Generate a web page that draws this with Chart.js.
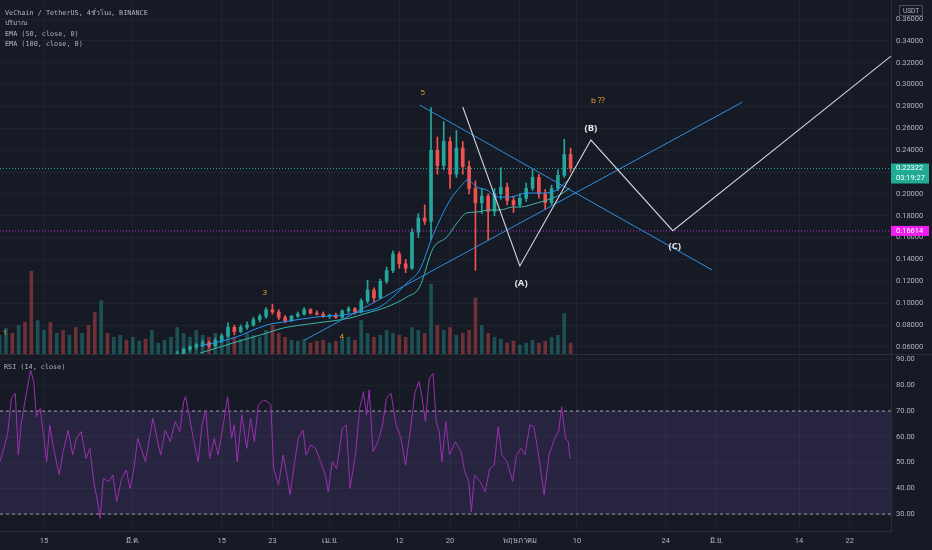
<!DOCTYPE html>
<html>
<head>
<meta charset="utf-8">
<script src="https://cdn.jsdelivr.net/npm/chart.js@4.4.1/dist/chart.umd.min.js"></script>
<style>
html, body { margin: 0; padding: 0; background: #161a25; overflow: hidden; }
#wrap { position: relative; width: 932px; height: 550px; }
#pricebox { position: absolute; left: 0; top: 0; width: 932px; height: 355px; }
#rsibox { position: absolute; left: 0; top: 355px; width: 932px; height: 195px; }
</style>
</head>
<body>
<div id="wrap">
  <div id="pricebox"><canvas id="priceChart"></canvas></div>
  <div id="rsibox"><canvas id="rsiChart"></canvas></div>
</div>
<script>
// days counted from 1 Feb 2021, one candle per day
const firstDay = 7;
const candleOpen = [0.044,0.046,0.048,0.047,0.050,0.049,0.046,0.048,0.049,0.047,0.048,0.046,0.047,0.045,0.046,0.043,0.041,0.044,0.043,0.044,0.045,0.044,0.046,0.047,0.046,0.049,0.050,0.051,
  0.052,0.054,0.058,0.060,0.062,0.064,0.061,0.066,0.070,0.078,0.074,0.078,0.080,0.085,0.088,0.094,0.092,0.087,0.084,0.088,0.090,0.094,0.091,0.090,0.088,0.089,0.087,0.093,0.095,
  0.092,0.102,0.112,0.105,0.120,0.130,0.145,0.136,0.132,0.165,0.178,0.175,0.240,0.226,0.248,0.218,0.242,0.225,0.205,0.192,0.198,0.184,0.200,0.206,0.194,0.190,0.196,0.205,
  0.215,0.200,0.192,0.205,0.217,0.236];
const candleHigh = [0.047,0.049,0.050,0.051,0.052,0.053,0.049,0.050,0.051,0.049,0.050,0.048,0.049,0.047,0.048,0.046,0.045,0.046,0.045,0.046,0.046,0.047,0.048,0.049,0.050,0.051,0.052,0.053,
  0.056,0.059,0.061,0.063,0.066,0.065,0.068,0.072,0.082,0.080,0.080,0.083,0.087,0.090,0.096,0.099,0.094,0.089,0.089,0.092,0.096,0.095,0.093,0.092,0.090,0.091,0.094,0.097,0.096,
  0.104,0.121,0.114,0.122,0.133,0.148,0.147,0.140,0.168,0.182,0.190,0.279,0.252,0.266,0.252,0.258,0.248,0.230,0.212,0.205,0.200,0.205,0.224,0.210,0.198,0.200,0.210,0.222,
  0.218,0.204,0.208,0.222,0.250,0.242];
const candleLow = [0.043,0.045,0.046,0.046,0.048,0.045,0.044,0.046,0.047,0.045,0.046,0.044,0.045,0.043,0.042,0.040,0.038,0.042,0.041,0.043,0.043,0.043,0.045,0.046,0.045,0.048,0.049,0.050,
  0.051,0.053,0.056,0.058,0.060,0.059,0.060,0.064,0.069,0.071,0.073,0.076,0.079,0.083,0.086,0.090,0.085,0.082,0.083,0.087,0.089,0.090,0.089,0.087,0.086,0.086,0.086,0.091,0.090,
  0.091,0.100,0.101,0.104,0.118,0.128,0.132,0.128,0.131,0.160,0.172,0.158,0.218,0.222,0.205,0.215,0.218,0.200,0.130,0.182,0.158,0.180,0.195,0.190,0.183,0.188,0.193,0.203,
  0.196,0.186,0.190,0.203,0.215,0.220];
const candleClose = [0.046,0.048,0.047,0.050,0.049,0.046,0.048,0.049,0.047,0.048,0.046,0.047,0.045,0.046,0.043,0.041,0.044,0.043,0.044,0.045,0.044,0.046,0.047,0.046,0.049,0.050,0.051,0.052,
  0.054,0.058,0.060,0.062,0.064,0.061,0.066,0.070,0.078,0.074,0.078,0.080,0.085,0.088,0.094,0.092,0.087,0.084,0.088,0.090,0.094,0.091,0.090,0.088,0.089,0.087,0.093,0.095,0.092,
  0.102,0.112,0.105,0.120,0.130,0.145,0.136,0.132,0.165,0.178,0.175,0.240,0.226,0.248,0.218,0.242,0.225,0.205,0.192,0.198,0.184,0.200,0.206,0.194,0.190,0.196,0.205,0.215,
  0.200,0.192,0.205,0.217,0.236,0.22322];
const volume = [20,27,22,30,33,85,35,25,33,22,25,20,28,22,30,43,55,22,18,20,15,18,14,16,25,12,15,18,
  28,22,18,25,20,18,22,20,25,18,16,22,20,18,25,30,22,18,15,14,16,12,14,15,12,14,16,18,15,
  35,22,18,20,25,22,20,18,28,25,22,72,30,25,28,20,22,25,58,30,22,18,16,12,14,10,12,15,
  12,14,18,20,42,12];

const ema50Days = [38.6,43.8,49.1,51.7,57.0,61.1,63.8,66.9,69.0,71.2,73.2,75.3,78.0,79.6,80.8,82.2,83.8,85.4,87.4,90.1,92.6,94.8,96.9];
const ema50Vals = [0.0608,0.0681,0.0800,0.0828,0.0874,0.0892,0.0919,0.0965,0.1057,0.1185,0.1304,0.1620,0.1944,0.2063,0.2127,0.2063,0.2035,0.1971,0.1971,0.2008,0.2008,0.2035,0.2145];
const ema100Days = [38.6,43.8,49.1,51.7,57.0,62.2,64.9,68.0,71.2,73.2,75.3,77.5,79.1,80.6,82.2,84.3,85.9,87.9,89.0,91.7,93.3,95.3,96.9];
const ema100Vals = [0.0544,0.0636,0.0727,0.0773,0.0819,0.0864,0.0910,0.0965,0.1057,0.1148,0.1500,0.1606,0.1734,0.1825,0.1834,0.1853,0.1853,0.1880,0.1880,0.1917,0.1944,0.1990,0.2054];

const trendUpDays = [55.1, 124.1];
const trendUpVals = [0.0663, 0.284];
const trendDownDays = [73.2, 119.3];
const trendDownVals = [0.2813, 0.1304];
const waveDays = [80.0, 89.0, 100.2, 113.1, 147.5];
const waveVals = [0.2795, 0.134, 0.2493, 0.1663, 0.3261];

const lastPrice = 0.22322;
const alertPrice = 0.16614;

const labelTexts = ['1', '3', '4', '5', 'b ⁇', '(A)', '(B)', '(C)'];
const labelDays = [7.85, 48.8, 60.95, 73.7, 101.3, 89.2, 100.2, 113.4];
const labelVals = [0.0727, 0.1093, 0.0691, 0.2923, 0.2850, 0.1185, 0.2603, 0.1523];

const rsiDays = [7.06,7.66,8.27,8.87,9.47,9.95,10.38,10.98,11.88,12.37,12.79,13.39,14.00,14.42,14.90,15.50,16.41,17.01,17.79,18.52,
  19.12,19.85,20.63,21.23,21.84,22.44,22.86,23.34,24.25,24.85,25.45,26.24,26.96,27.56,28.17,28.77,29.49,29.98,30.70,31.18,
  31.79,32.39,33.11,33.90,34.68,35.40,36.01,36.31,36.91,37.51,38.30,38.90,39.50,40.11,40.83,41.43,42.34,42.94,43.55,43.97,
  44.45,45.17,45.96,46.56,47.16,47.77,48.55,49.27,49.76,50.18,50.96,51.69,52.29,52.77,53.50,54.10,54.82,55.30,56.03,56.81,
  57.60,58.32,58.80,59.41,60.13,61.03,61.64,62.24,63.14,63.75,64.35,64.83,65.26,65.86,66.64,67.37,67.97,68.69,69.48,70.26,
  70.98,71.71,72.49,73.10,73.52,74.12,74.72,75.33,75.81,76.29,76.71,77.32,77.92,78.82,79.73,80.33,80.94,81.36,81.84,82.74,
  83.53,84.25,84.98,85.58,86.18,86.97,87.87,88.47,89.20,89.80,90.58,91.19,91.79,92.39,92.82,93.60,94.50,95.11,95.59,96.19,
  96.62,96.92];
const rsiVals = [50.3,55.5,61.3,74.9,76.9,52.9,64.6,73.6,85.9,81.4,67.8,71.0,59.4,50.3,64.6,55.5,45.2,54.2,62.6,52.9,
  59.4,62.0,51.6,55.5,42.6,34.8,28.3,43.8,42.6,45.2,34.8,43.8,47.1,39.9,47.7,59.4,54.2,50.3,60.7,67.2,
  59.4,52.9,62.6,58.1,65.9,62.0,73.6,75.6,67.8,59.4,50.3,64.6,70.4,51.6,59.4,52.9,65.9,75.6,59.4,64.6,
  50.3,68.5,55.5,67.2,58.1,72.3,74.3,73.6,72.3,47.7,41.3,52.9,45.2,37.4,50.3,59.4,62.6,52.9,56.8,55.5,
  50.3,45.2,38.7,50.3,47.7,63.3,64.6,39.9,54.2,71.0,77.5,68.5,78.2,54.2,58.1,64.6,74.9,76.9,64.6,59.4,
  49.0,62.0,77.5,81.4,76.2,65.9,82.7,84.6,65.9,62.0,50.3,65.9,52.9,58.1,54.2,46.4,42.6,30.9,45.2,42.6,
  38.7,47.7,49.0,63.9,52.9,50.3,42.6,52.9,55.5,52.9,64.6,63.9,55.5,45.2,37.4,52.9,59.4,62.0,71.7,59.4,
  58.1,51.6];

const tickDays = [14, 28, 42, 50, 59, 70, 78, 89, 98, 112, 120, 133, 141];
const tickLabels = ['15', 'มี.ค.', '15', '23', 'เม.ย.', '12', '20', 'พฤษภาคม', '10', '24', 'มิ.ย.', '14', '22'];

const titleLines = ['VeChain / TetherUS, 4ชั่วโมง, BINANCE', 'ปริมาณ', 'EMA (50, close, 0)', 'EMA (100, close, 0)'];

const xMin = 7.06, xMax = 147.5;
const gridColor = 'rgba(255,255,255,0.045)';
const textColor = '#b2b5be';
const axisFont = { family: 'Roboto', size: 7.5 };
const upColor = '#26a69a', downColor = '#ef5350';

const days = candleClose.map((_, i) => firstDay + i);
const isUp = candleClose.map((c, i) => c >= candleOpen[i]);
const pts = (xs, ys) => xs.map((x, i) => ({ x: x, y: ys[i] }));

function customTicks(scale) {
    scale.ticks = tickDays.map(v => ({ value: v }));
}
function tickText(v) {
    const k = tickDays.indexOf(v);
    return k >= 0 ? tickLabels[k] : '';
}

const priceOverlay = {
    id: 'priceOverlay',
    afterDraw(chart) {
        const { ctx, chartArea, scales } = chart;
        const x = scales.x, y = scales.y;
        ctx.save();
        // legend lines top-left
        ctx.font = "6.8px 'DejaVu Sans Mono', 'Noto Sans', monospace";
        ctx.fillStyle = textColor;
        ctx.textAlign = 'left';
        ctx.textBaseline = 'middle';
        titleLines.forEach((t, i) => ctx.fillText(t, 5, 13 + i * 10.4));

        // wave labels
        ctx.textAlign = 'center';
        labelTexts.forEach((t, i) => {
            const bold = t.startsWith('(');
            ctx.font = bold ? "bold 9.5px 'Open Sans', sans-serif" : "8px 'Open Sans', sans-serif";
            ctx.fillStyle = bold ? '#e6e6e6' : '#f5a623';
            ctx.fillText(t, x.getPixelForValue(labelDays[i]), y.getPixelForValue(labelVals[i]));
        });

        // pane separator
        ctx.strokeStyle = '#2a2e39';
        ctx.lineWidth = 1;
        ctx.beginPath();
        ctx.moveTo(0, chartArea.bottom - 0.5);
        ctx.lineTo(chart.width, chartArea.bottom - 0.5);
        ctx.stroke();

        // USDT box
        const ax = chartArea.right;
        ctx.strokeStyle = '#4a4e59';
        ctx.strokeRect(ax + 8.5, 5.5, 23, 10);
        ctx.font = "6.5px 'Roboto', sans-serif";
        ctx.fillStyle = textColor;
        ctx.fillText('USDT', ax + 20, 11);

        // last price box
        const yl = y.getPixelForValue(lastPrice);
        ctx.fillStyle = '#22ab94';
        ctx.fillRect(ax, yl - 5, 38, 20);
        ctx.fillStyle = '#ffffff';
        ctx.textAlign = 'left';
        ctx.font = "7.5px 'Roboto', sans-serif";
        ctx.fillText(lastPrice.toFixed(5), ax + 5, yl);
        ctx.fillText('03:19:27', ax + 5, yl + 9.5);

        // alert price box
        const ya = y.getPixelForValue(alertPrice);
        ctx.fillStyle = '#f01cf0';
        ctx.fillRect(ax, ya - 5, 38, 10);
        ctx.fillStyle = '#ffffff';
        ctx.fillText(alertPrice.toFixed(5), ax + 5, ya);
        ctx.restore();
    }
};

const rsiOverlay = {
    id: 'rsiOverlay',
    afterDraw(chart) {
        const { ctx } = chart;
        ctx.save();
        ctx.font = "6.8px 'DejaVu Sans Mono', monospace";
        ctx.fillStyle = textColor;
        ctx.textAlign = 'left';
        ctx.textBaseline = 'middle';
        ctx.fillText('RSI (14, close)', 4, 12);
        ctx.restore();
    }
};

const lineBase = { type: 'line', pointRadius: 0, fill: false, yAxisID: 'y' };

new Chart(document.getElementById('priceChart'), {
    type: 'bar',
    data: {
        datasets: [
            Object.assign({}, lineBase, { data: pts(waveDays, waveVals), borderColor: '#d1d4dc', borderWidth: 1.1, order: 0 }),
            Object.assign({}, lineBase, { data: pts(trendUpDays, trendUpVals), borderColor: '#2f8fe0', borderWidth: 1, order: 1 }),
            Object.assign({}, lineBase, { data: pts(trendDownDays, trendDownVals), borderColor: '#2f8fe0', borderWidth: 1, order: 1 }),
            Object.assign({}, lineBase, { data: pts(ema50Days, ema50Vals), borderColor: '#2196f3', borderWidth: 1, cubicInterpolationMode: 'monotone', order: 2 }),
            Object.assign({}, lineBase, { data: pts(ema100Days, ema100Vals), borderColor: '#3fb6a8', borderWidth: 1, cubicInterpolationMode: 'monotone', order: 2 }),
            Object.assign({}, lineBase, { data: pts([xMin, xMax], [lastPrice, lastPrice]), borderColor: '#26a69a', borderWidth: 1, borderDash: [1, 2], order: 3 }),
            Object.assign({}, lineBase, { data: pts([xMin, xMax], [alertPrice, alertPrice]), borderColor: '#c22fd6', borderWidth: 1, borderDash: [1, 2], order: 3 }),
            {
                type: 'bar', order: 4, grouped: false, yAxisID: 'y', barThickness: 3, minBarLength: 1,
                data: days.map((d, i) => ({ x: d, y: [candleOpen[i], candleClose[i]] })),
                backgroundColor: isUp.map(u => u ? upColor : downColor)
            },
            {
                type: 'bar', order: 5, grouped: false, yAxisID: 'y', barThickness: 1,
                data: days.map((d, i) => ({ x: d, y: [candleLow[i], candleHigh[i]] })),
                backgroundColor: isUp.map(u => u ? upColor : downColor)
            },
            {
                type: 'bar', order: 6, grouped: false, yAxisID: 'yv', barThickness: 3,
                data: days.map((d, i) => ({ x: d, y: volume[i] })),
                backgroundColor: isUp.map(u => u ? 'rgba(38,166,154,0.4)' : 'rgba(239,83,80,0.4)')
            }
        ]
    },
    options: {
        responsive: true,
        maintainAspectRatio: false,
        animation: false,
        layout: { padding: 0 },
        plugins: { legend: { display: false }, tooltip: { enabled: false } },
        scales: {
            x: {
                type: 'linear', min: xMin, max: xMax, offset: false,
                grid: { color: gridColor, drawTicks: false, offset: false },
                border: { display: false },
                ticks: { display: false },
                afterBuildTicks: customTicks,
                afterFit: s => { s.height = 0; s.paddingLeft = 0; s.paddingRight = 0; }
            },
            y: {
                type: 'linear', position: 'right', min: 0.0526, max: 0.3774,
                grid: { color: gridColor, drawTicks: false },
                border: { color: '#2a2e39' },
                ticks: { stepSize: 0.02, includeBounds: false, color: textColor, font: axisFont, padding: 5,
                         callback: v => v.toFixed(5) },
                afterFit: s => { s.width = 41; s.paddingTop = 0; s.paddingBottom = 0; }
            },
            yv: { type: 'linear', display: false, min: 0, max: 360 }
        }
    },
    plugins: [priceOverlay]
});

new Chart(document.getElementById('rsiChart'), {
    type: 'line',
    data: {
        datasets: [
            { data: pts(rsiDays, rsiVals), borderColor: '#9c2fb0', borderWidth: 1, pointRadius: 0, fill: false, order: 0 },
            { data: pts([xMin, xMax], [70, 70]), borderColor: 'rgba(210,212,220,0.7)', borderWidth: 1, borderDash: [3, 3],
              pointRadius: 0, fill: '+1', backgroundColor: 'rgba(126,87,194,0.17)', order: 1 },
            { data: pts([xMin, xMax], [30, 30]), borderColor: 'rgba(210,212,220,0.7)', borderWidth: 1, borderDash: [3, 3],
              pointRadius: 0, fill: false, order: 1 }
        ]
    },
    options: {
        responsive: true,
        maintainAspectRatio: false,
        animation: false,
        layout: { padding: 0 },
        plugins: { legend: { display: false }, tooltip: { enabled: false } },
        scales: {
            x: {
                type: 'linear', min: xMin, max: xMax,
                grid: { color: gridColor, drawTicks: false },
                border: { color: '#2a2e39' },
                ticks: { color: textColor, font: axisFont, padding: 6, maxRotation: 0, autoSkip: false, callback: tickText },
                afterBuildTicks: customTicks,
                afterFit: s => { s.height = 19; s.paddingLeft = 0; s.paddingRight = 0; }
            },
            y: {
                type: 'linear', position: 'right', min: 23.4, max: 91.75,
                grid: { color: gridColor, drawTicks: false },
                border: { color: '#2a2e39' },
                ticks: { stepSize: 10, includeBounds: false, color: textColor, font: axisFont, padding: 5,
                         callback: v => v.toFixed(2) },
                afterFit: s => { s.width = 41; s.paddingTop = 0; s.paddingBottom = 0; }
            }
        }
    },
    plugins: [rsiOverlay]
});
</script>
</body>
</html>
